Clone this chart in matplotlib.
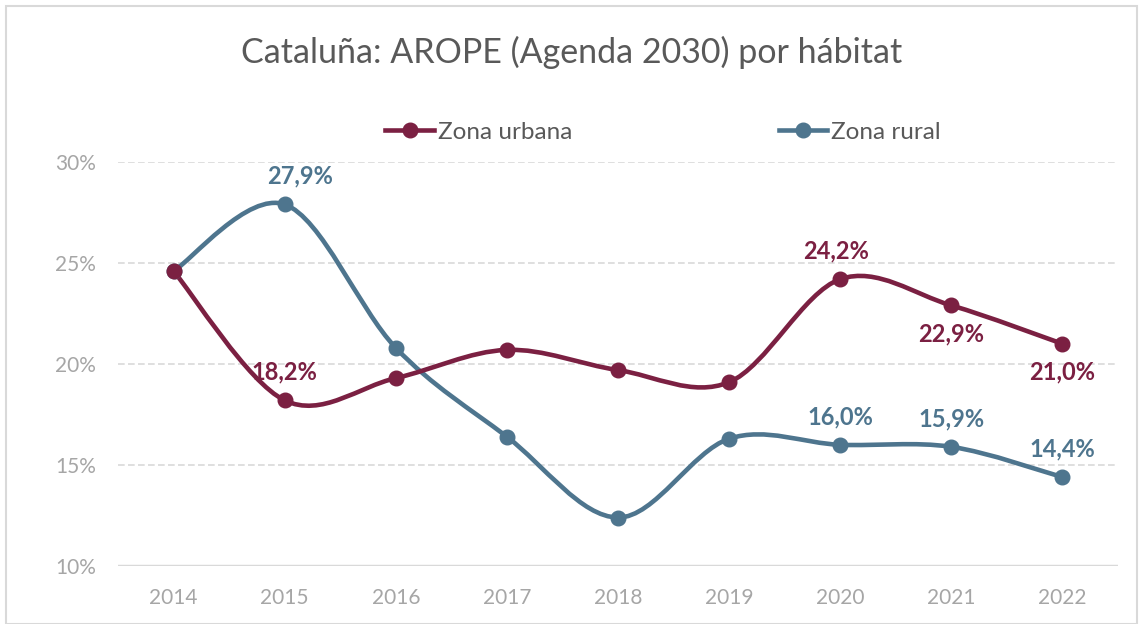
import numpy as np
import matplotlib
matplotlib.use("Agg")
import matplotlib.pyplot as plt
from matplotlib.path import Path
from matplotlib.patches import PathPatch, Rectangle
from matplotlib.lines import Line2D

years = ["2014", "2015", "2016", "2017", "2018", "2019", "2020", "2021", "2022"]
urbana = [24.6, 18.2, 19.3, 20.7, 19.7, 19.1, 24.2, 22.9, 21.0]
rural = [24.6, 27.9, 20.8, 16.4, 12.4, 16.3, 16.0, 15.9, 14.4]

# which points carry a label: (1 above / -1 below, x shift in points)
urbana_labels = {1: (1, 0), 6: (1, -3), 7: (-1, 0), 8: (-1, 0)}
rural_labels = {1: (1, 11), 6: (1, 0), 7: (1, 0), 8: (1, 0)}

c_urb = "#7B2042"
c_rur = "#4E758E"

plt.rcParams["font.family"] = ["Lato", "DejaVu Sans"]


def smooth_path(xs, ys):
    # Excel-style smoothed line: cubic Bezier with Catmull-Rom control points
    pts = np.column_stack([xs, ys]).astype(float)
    n = len(pts)
    verts = [pts[0]]
    codes = [Path.MOVETO]
    for i in range(n - 1):
        p0 = pts[max(i - 1, 0)]
        p1 = pts[i]
        p2 = pts[i + 1]
        p3 = pts[min(i + 2, n - 1)]
        c1 = p1 + (p2 - p0) / 6
        c2 = p2 - (p3 - p1) / 6
        verts += [c1, c2, p2]
        codes += [Path.CURVE4] * 3
    return Path(verts, codes)


fig = plt.figure(figsize=(11.43, 6.24), dpi=100)
fig.patches.append(Rectangle((6 / 1143, 0), 1 - 12 / 1143, 1 - 6 / 624,
                             transform=fig.transFigure, fill=False,
                             edgecolor="#D9D9D9", linewidth=1.5))
ax = fig.add_axes([118 / 1143, 1 - 566 / 624, 1000 / 1143, 404 / 624])

x = np.arange(len(years))
for vals, col, labs in [(rural, c_rur, rural_labels), (urbana, c_urb, urbana_labels)]:
    ax.add_patch(PathPatch(smooth_path(x, vals), facecolor="none", edgecolor=col,
                           linewidth=3.3, capstyle="round", zorder=3))
    ax.plot(x, vals, linestyle="none", marker="o", markersize=10.5, color=col, zorder=4)
    for i, (pos, dx) in labs.items():
        ax.annotate(f"{vals[i]:.1f}%".replace(".", ","), (x[i], vals[i]),
                    xytext=(dx, 12 * pos), textcoords="offset points",
                    ha="center", va="bottom" if pos > 0 else "top",
                    fontsize=17, fontweight="bold", color=col, zorder=5)

ax.set_xlim(-0.5, len(years) - 0.5)
ax.set_ylim(10, 30)
ax.set_yticks([10, 15, 20, 25, 30])
ax.set_yticklabels([f"{v}%" for v in [10, 15, 20, 25, 30]])
ax.set_xticks(x)
ax.set_xticklabels(years)
ax.tick_params(length=0, labelsize=15, labelcolor="#A6A6A6")
ax.tick_params(axis="x", pad=16)
ax.tick_params(axis="y", pad=16)
for s in ax.spines.values():
    s.set_visible(False)
ax.grid(axis="y", color="#D9D9D9", linestyle=(0, (4, 2)), linewidth=1.2)
ax.axhline(10, color="#D9D9D9", linewidth=2.5, zorder=2)
ax.set_axisbelow(True)

fig.text(0.5, 1 - 52 / 624, "Cataluña: AROPE (Agenda 2030) por hábitat",
         ha="center", va="center", fontsize=24.5, color="#595959")

handles = [Line2D([], [], color=c_urb, linewidth=3.3, marker="o", markersize=10.5),
           Line2D([], [], color=c_rur, linewidth=3.3, marker="o", markersize=10.5)]
fig.legend(handles, ["Zona urbana", "Zona rural"], loc="center",
           bbox_to_anchor=(0.58, 1 - 132 / 624), ncol=2, frameon=False,
           fontsize=17.5, labelcolor="#595959", handlelength=2.0,
           handletextpad=0.15, columnspacing=8.5)

fig.savefig("out.png", dpi=100)
